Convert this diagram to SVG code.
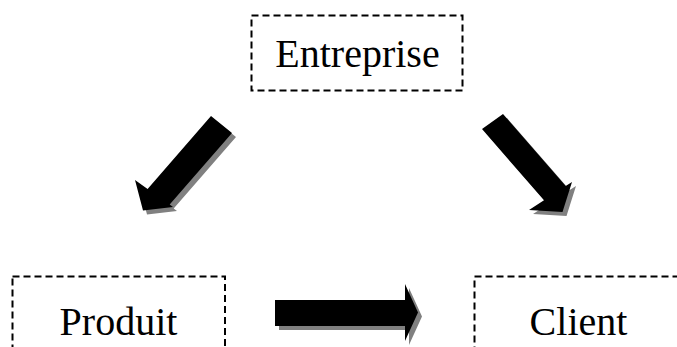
<svg xmlns="http://www.w3.org/2000/svg" xmlns:xlink="http://www.w3.org/1999/xlink" width="677" height="347" viewBox="0 0 677 347">
  <style>
    .box { fill: none; stroke: #000; stroke-width: 2; stroke-dasharray: 7 4; }
    .label { font-family: "Liberation Serif", "Times New Roman", serif; font-size: 40px; fill: #000; text-anchor: middle; }
    .arrow { fill: #000; }
    .shadow { fill: #808080; }
  </style>
  <defs>
    <!-- block arrows, each reused once as a drop shadow -->
    <polygon id="arrow-left-down" points="211,116 147.6,188.9 135,180 143,210.5 173,207 169.7,204.6 232,133"/>
    <polygon id="arrow-right-down" points="503,114 565.7,186.1 572,182 562.5,212 529,210 544,200.3 482,129"/>
    <polygon id="arrow-right" points="275,300 405,300 405,284 418,312.5 405,341 405,326 275,326"/>
  </defs>

  <rect width="677" height="347" fill="#fff"/>

  <g id="entreprise">
    <rect class="box" x="251.5" y="15.5" width="211" height="75"/>
    <text class="label" x="357.5" y="67">Entreprise</text>
  </g>

  <g id="produit">
    <rect class="box" x="12.5" y="276.5" width="212.5" height="100"/>
    <text class="label" x="118.5" y="335">Produit</text>
  </g>

  <g id="client">
    <rect class="box" x="474.5" y="276.5" width="230" height="100"/>
    <text class="label" x="578.5" y="335">Client</text>
  </g>

  <g id="connectors">
    <use xlink:href="#arrow-left-down" class="shadow" transform="translate(4,4)"/>
    <use xlink:href="#arrow-left-down" class="arrow"/>
    <use xlink:href="#arrow-right-down" class="shadow" transform="translate(4,4)"/>
    <use xlink:href="#arrow-right-down" class="arrow"/>
    <use xlink:href="#arrow-right" class="shadow" transform="translate(4,4)"/>
    <use xlink:href="#arrow-right" class="arrow"/>
  </g>
</svg>
